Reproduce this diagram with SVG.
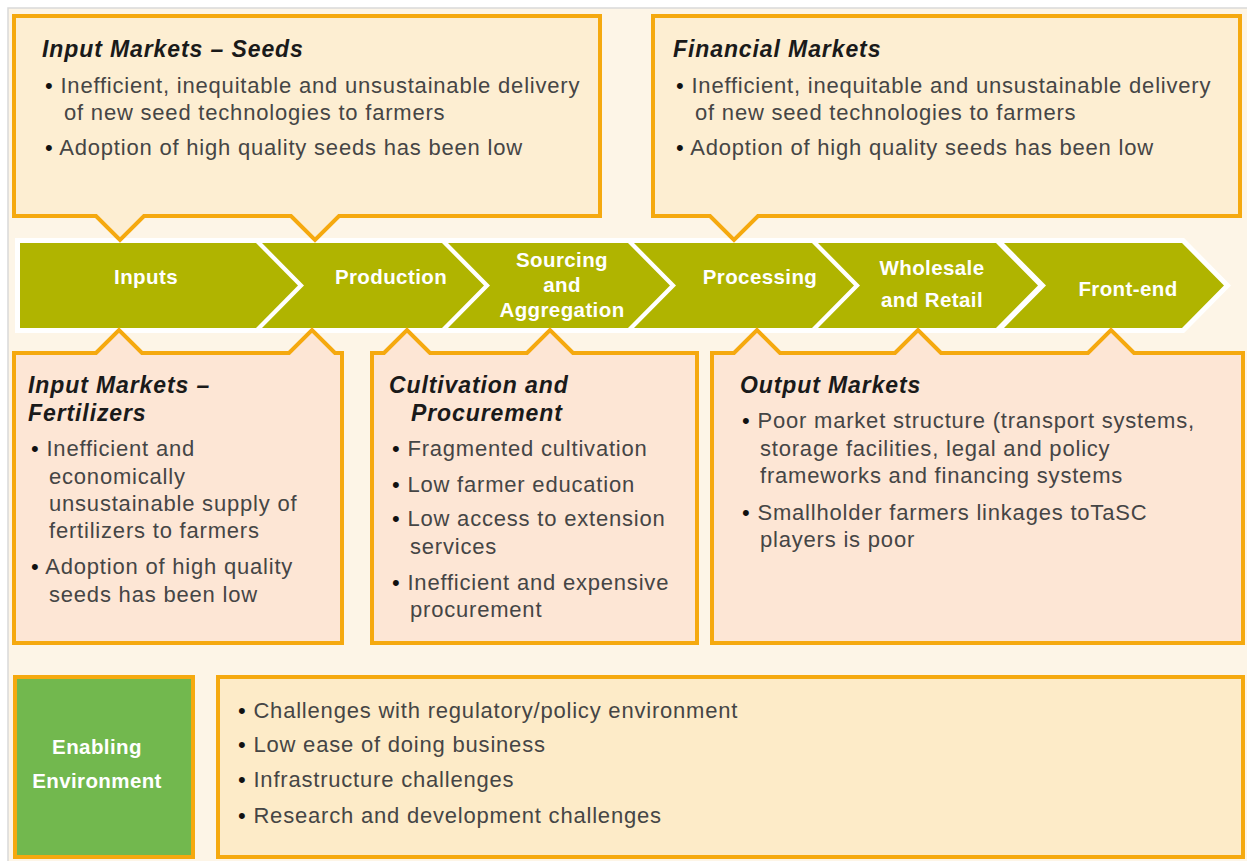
<svg xmlns="http://www.w3.org/2000/svg" xmlns:xlink="http://www.w3.org/1999/xlink" width="1247" height="861" viewBox="0 0 1247 861">
<style>
.box{stroke:#f5a90f;stroke-width:4;stroke-linejoin:miter}
.top{fill:#fdeed2}
.low{fill:#fde6d5}
.env{fill:#fdebc8}
.green{fill:#72b84e}
.title{font-family:"Liberation Sans",Arial,sans-serif;font-weight:bold;font-style:italic;font-size:23px;fill:#1a1a1a;letter-spacing:0.9px}
.body{font-family:"Liberation Sans",Arial,sans-serif;font-size:22px;fill:#454545;letter-spacing:0.8px}
.dot{fill:#111}
.chev{font-family:"Liberation Sans",Arial,sans-serif;font-weight:bold;font-size:20.5px;fill:#ffffff;text-anchor:middle;letter-spacing:0.4px}
.cfill{fill:#b0b400}
.cstroke{fill:#ffffff;stroke:#ffffff;stroke-width:10;stroke-linejoin:miter}
</style>
<defs>
<path id="c1" d="M20,243 H256 L298,285.5 L256,328 H20 Z"/>
<path id="c2" d="M262,243 H442 L484,285.5 L442,328 H262 L304,285.5 Z"/>
<path id="c3" d="M448,243 H628 L670,285.5 L628,328 H448 L490,285.5 Z"/>
<path id="c4" d="M634,243 H812 L854,285.5 L812,328 H634 L676,285.5 Z"/>
<path id="c5" d="M818,243 H996 L1038,285.5 L996,328 H818 L860,285.5 Z"/>
<path id="c6" d="M1004,243 H1182 L1224,285.5 L1182,328 H1004 L1046,285.5 Z"/>
</defs>
<rect x="8" y="8" width="1245" height="860" fill="#fdf5e7" stroke="#d9d9d9" stroke-width="1.5"/>

<g id="connectors">
</g>

<g id="value-chain">
<g class="cstroke">
<use xlink:href="#c1"/><use xlink:href="#c2"/><use xlink:href="#c3"/><use xlink:href="#c4"/><use xlink:href="#c5"/><use xlink:href="#c6"/>
</g>
<g id="inputs"><use xlink:href="#c1" class="cfill"/><text class="chev" x="146" y="284">Inputs</text></g>
<g id="production"><use xlink:href="#c2" class="cfill"/><text class="chev" x="391" y="284">Production</text></g>
<g id="sourcing"><use xlink:href="#c3" class="cfill"/><text class="chev" x="562" y="267">Sourcing</text><text class="chev" x="562" y="292">and</text><text class="chev" x="562" y="317">Aggregation</text></g>
<g id="processing"><use xlink:href="#c4" class="cfill"/><text class="chev" x="760" y="284">Processing</text></g>
<g id="wholesale"><use xlink:href="#c5" class="cfill"/><text class="chev" x="932" y="275">Wholesale</text><text class="chev" x="932" y="307">and Retail</text></g>
<g id="frontend"><use xlink:href="#c6" class="cfill"/><text class="chev" x="1128" y="296">Front-end</text></g>
</g>

<g id="seeds">
<path class="box top" d="M14,16 H600 V216 H339 L315,240 L291,216 H144 L120,240 L96,216 H14 Z"/>
<text class="title" x="42" y="57">Input Markets – Seeds</text>
<text class="body" x="45" y="93"><tspan class="dot">•</tspan> Inefficient, inequitable and unsustainable delivery</text>
<text class="body" x="64" y="120">of new seed technologies to farmers</text>
<text class="body" x="45" y="155"><tspan class="dot">•</tspan> Adoption of high quality seeds has been low</text>
</g>

<g id="financial">
<path class="box top" d="M653,16 H1240 V216 H758 L734,240 L710,216 H653 Z"/>
<text class="title" x="673" y="57">Financial Markets</text>
<text class="body" x="676" y="93"><tspan class="dot">•</tspan> Inefficient, inequitable and unsustainable delivery</text>
<text class="body" x="695" y="120">of new seed technologies to farmers</text>
<text class="body" x="676" y="155"><tspan class="dot">•</tspan> Adoption of high quality seeds has been low</text>
</g>

<g id="fertilizers">
<path class="box low" d="M14,353 H96 L119,330 L142,353 H289 L312,330 L335,353 H342 V643 H14 Z"/>
<text class="title" x="28" y="393">Input Markets –</text>
<text class="title" x="28" y="421">Fertilizers</text>
<text class="body" x="31" y="456"><tspan class="dot">•</tspan> Inefficient and</text>
<text class="body" x="49" y="484">economically</text>
<text class="body" x="49" y="511">unsustainable supply of</text>
<text class="body" x="49" y="538">fertilizers to farmers</text>
<text class="body" x="31" y="574"><tspan class="dot">•</tspan> Adoption of high quality</text>
<text class="body" x="49" y="602">seeds has been low</text>
</g>

<g id="cultivation">
<path class="box low" d="M372,353 H384 L407,330 L430,353 H527 L550,330 L573,353 H697 V643 H372 Z"/>
<text class="title" x="389" y="393">Cultivation and</text>
<text class="title" x="411" y="421">Procurement</text>
<text class="body" x="392" y="456"><tspan class="dot">•</tspan> Fragmented cultivation</text>
<text class="body" x="392" y="492"><tspan class="dot">•</tspan> Low farmer education</text>
<text class="body" x="392" y="526"><tspan class="dot">•</tspan> Low access to extension</text>
<text class="body" x="410" y="554">services</text>
<text class="body" x="392" y="590"><tspan class="dot">•</tspan> Inefficient and expensive</text>
<text class="body" x="410" y="617">procurement</text>
</g>

<g id="output">
<path class="box low" d="M712,353 H734 L757,330 L780,353 H895 L918,330 L941,353 H1088 L1111,330 L1134,353 H1243 V643 H712 Z"/>
<text class="title" x="740" y="393">Output Markets</text>
<text class="body" x="742" y="428"><tspan class="dot">•</tspan> Poor market structure (transport systems,</text>
<text class="body" x="760" y="456">storage facilities, legal and policy</text>
<text class="body" x="760" y="483">frameworks and financing systems</text>
<text class="body" x="742" y="520"><tspan class="dot">•</tspan> Smallholder farmers linkages toTaSC</text>
<text class="body" x="760" y="547">players is poor</text>
</g>

<g id="enabling">
<rect class="box green" x="15" y="677" width="178" height="180"/>
<text class="chev" x="97" y="754">Enabling</text>
<text class="chev" x="97" y="788">Environment</text>
</g>

<g id="environment">
<rect class="box env" x="218" y="677" width="1025" height="180"/>
<text class="body" x="238" y="718"><tspan class="dot">•</tspan> Challenges with regulatory/policy environment</text>
<text class="body" x="238" y="752"><tspan class="dot">•</tspan> Low ease of doing business</text>
<text class="body" x="238" y="787"><tspan class="dot">•</tspan> Infrastructure challenges</text>
<text class="body" x="238" y="823"><tspan class="dot">•</tspan> Research and development challenges</text>
</g>
</svg>
